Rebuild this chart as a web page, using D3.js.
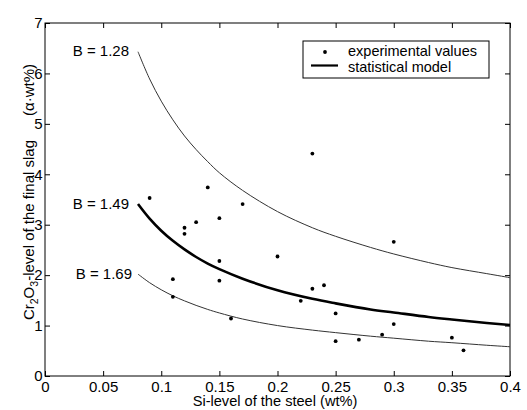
<!DOCTYPE html>
<html>
<head>
<meta charset="utf-8">
<script src="https://cdn.jsdelivr.net/npm/d3@7/dist/d3.min.js"></script>
<style>
  html, body { margin: 0; padding: 0; background: #fff; }
  svg { display: block; font-family: "Liberation Sans", Arial, sans-serif; }
</style>
</head>
<body>
<svg id="chart" width="527" height="410"></svg>
<script>
// ---- data ----
const expSi  = [0.09, 0.11, 0.11, 0.12, 0.12, 0.13, 0.14, 0.15, 0.15, 0.15, 0.16, 0.17, 0.20, 0.22, 0.23, 0.23, 0.24, 0.25, 0.25, 0.27, 0.29, 0.30, 0.30, 0.35, 0.36];
const expCr  = [3.53, 1.92, 1.57, 2.94, 2.82, 3.05, 3.74, 3.13, 2.28, 1.89, 1.14, 3.41, 2.37, 1.49, 4.41, 1.73, 1.80, 1.24, 0.69, 0.72, 0.82, 2.66, 1.03, 0.76, 0.51];

const curveSi   = [0.08, 0.09, 0.10, 0.11, 0.12, 0.13, 0.14, 0.15, 0.17, 0.20, 0.23, 0.25, 0.28, 0.30, 0.33, 0.35, 0.38, 0.40];
const curveB128 = [6.43, 5.89, 5.45, 5.08, 4.76, 4.49, 4.25, 4.03, 3.68, 3.26, 2.94, 2.77, 2.55, 2.42, 2.25, 2.15, 2.03, 1.95];
const curveB149 = [3.41, 3.12, 2.88, 2.68, 2.51, 2.36, 2.23, 2.12, 1.93, 1.70, 1.53, 1.44, 1.32, 1.26, 1.17, 1.12, 1.05, 1.01];
const curveB169 = [2.02, 1.85, 1.71, 1.59, 1.49, 1.40, 1.32, 1.25, 1.13, 1.00, 0.91, 0.86, 0.79, 0.75, 0.69, 0.66, 0.61, 0.58];
const curveLabels = ["B = 1.28", "B = 1.49", "B = 1.69"];

const xTicks = [0, 0.05, 0.1, 0.15, 0.2, 0.25, 0.3, 0.35, 0.4];
const xTickLabels = ["0", "0.05", "0.1", "0.15", "0.2", "0.25", "0.3", "0.35", "0.4"];
const yTicks = [0, 1, 2, 3, 4, 5, 6, 7];
const yTickLabels = ["0", "1", "2", "3", "4", "5", "6", "7"];
const legendLabels = ["experimental values", "statistical model"];

// ---- layout ----
const L = 45, R = 510, T = 23, B = 376;
const svg = d3.select("#chart");
const x = d3.scaleLinear().domain([0, 0.4]).range([L, R]);
const y = d3.scaleLinear().domain([0, 7]).range([B, T]);
const FS = 15;

// frame
svg.append("rect").attr("x", L).attr("y", T).attr("width", R - L).attr("height", B - T)
  .attr("fill", "none").attr("stroke", "#000").attr("stroke-width", 1);

// axes (ticks inward)
const tl = 5;
const xb = svg.append("g").attr("transform", `translate(0,${B})`)
  .call(d3.axisBottom(x).tickValues(xTicks).tickSize(-tl).tickPadding(5)
    .tickFormat((d, i) => xTickLabels[i]));
const xt = svg.append("g").attr("transform", `translate(0,${T})`)
  .call(d3.axisTop(x).tickValues(xTicks).tickSize(-tl).tickFormat(""));
const yl = svg.append("g").attr("transform", `translate(${L},0)`)
  .call(d3.axisLeft(y).tickValues(yTicks).tickSize(-tl).tickPadding(2.5)
    .tickFormat((d, i) => yTickLabels[i]));
const yr = svg.append("g").attr("transform", `translate(${R},0)`)
  .call(d3.axisRight(y).tickValues(yTicks).tickSize(-tl).tickFormat(""));
[xb, xt, yl, yr].forEach(g => {
  g.select(".domain").remove();
  g.selectAll(".tick line").attr("stroke", "#000");
  g.selectAll("text").attr("font-size", FS).attr("fill", "#000")
    .attr("font-family", "Liberation Sans, Arial, sans-serif");
});

// curves
const line = d3.line().x(d => x(d[0])).y(d => y(d[1])).curve(d3.curveCatmullRom.alpha(0.5));
const curves = [
  { vals: curveB128, w: 1, c: "#333" },
  { vals: curveB149, w: 2.6, c: "#000" },
  { vals: curveB169, w: 1, c: "#333" }
];
curves.forEach((cv, i) => {
  const pts = curveSi.map((s, j) => [s, cv.vals[j]]);
  svg.append("path").attr("d", line(pts)).attr("fill", "none")
    .attr("stroke", cv.c).attr("stroke-width", cv.w);
  svg.append("text").attr("x", x(curveSi[0]) - (i === 2 ? 6 : 9))
    .attr("y", y(cv.vals[0]) + 4.5)
    .attr("text-anchor", "end").attr("font-size", FS).attr("fill", "#000")
    .text(curveLabels[i]);
});

// experimental points
svg.append("g").selectAll("circle").data(expSi).join("circle")
  .attr("cx", (d) => x(d)).attr("cy", (d, i) => y(expCr[i]))
  .attr("r", 1.9).attr("fill", "#000");

// legend
const lg = svg.append("g");
lg.append("rect").attr("x", 303).attr("y", 41).attr("width", 186).attr("height", 37)
  .attr("fill", "#fff").attr("stroke", "#000").attr("stroke-width", 1);
lg.append("circle").attr("cx", 325).attr("cy", 52).attr("r", 1.9).attr("fill", "#000");
lg.append("line").attr("x1", 311).attr("x2", 338).attr("y1", 65.5).attr("y2", 65.5)
  .attr("stroke", "#000").attr("stroke-width", 2.2);
lg.append("text").attr("x", 348).attr("y", 55.5).attr("font-size", 14.5).text(legendLabels[0]);
lg.append("text").attr("x", 348).attr("y", 71.5).attr("font-size", 14.5).text(legendLabels[1]);

// axis titles
svg.append("text").attr("x", 275).attr("y", 406).attr("text-anchor", "middle")
  .attr("font-size", 14.6).text("Si-level of the steel (wt%)");

const yt = svg.append("text").attr("transform", "translate(34,192) rotate(-90)")
  .attr("text-anchor", "middle").attr("font-size", 15);
yt.append("tspan").text("Cr");
yt.append("tspan").attr("font-size", 10.5).attr("dy", 4).text("2");
yt.append("tspan").attr("dy", -4).text("O");
yt.append("tspan").attr("font-size", 10.5).attr("dy", 4).text("3");
yt.append("tspan").attr("dy", -4).text("-level of the final slag");
yt.append("tspan").attr("dx", 24).text("(\u03B1\u00B7wt%)");
</script>
</body>
</html>
